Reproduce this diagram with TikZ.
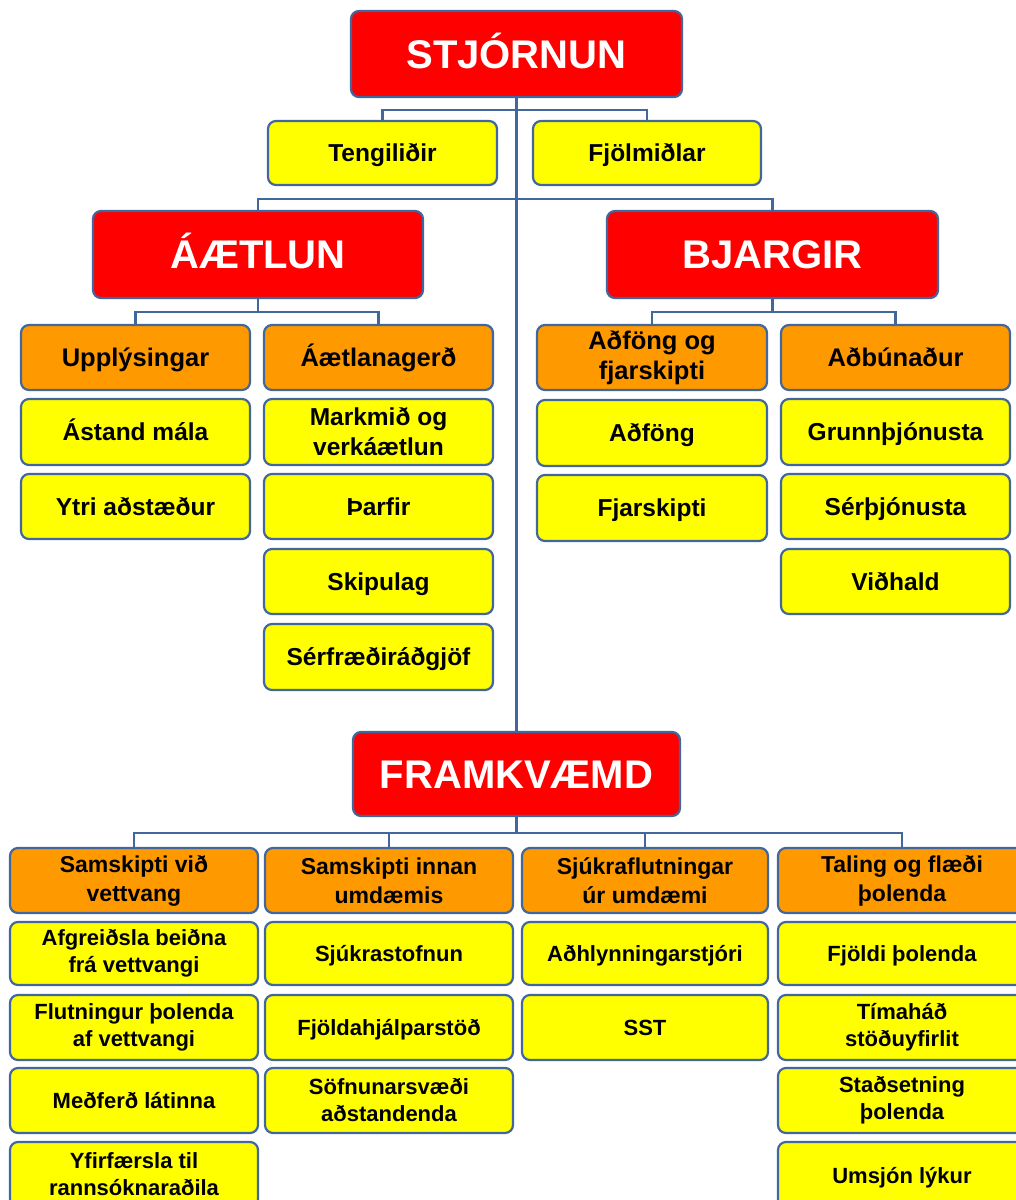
\documentclass[tikz,border=0pt]{standalone}
\usepackage{fontspec}
\setmainfont{Liberation Sans}
\definecolor{bordc}{HTML}{41679C}
\definecolor{redf}{HTML}{FF0000}
\definecolor{orf}{HTML}{FF9900}
\definecolor{yelf}{HTML}{FFFF00}
\newcommand\capbx[1]{\raisebox{0pt}[0.716em][0pt]{#1}}
\newcommand\bx[7]{\node[#6, minimum width={(#4-#2)*1pt}, minimum height={(#5-#3)*1pt}] (#1) at ({(#2+#4)/2},{(#3+#5)/2}) {#7};}
\newcommand\bxo[7]{\bx{#1}{#2}{#3}{#4}{#5}{#6}{\capbx{#7}}}
\begin{document}
\begin{tikzpicture}[x=1pt,y=-1pt,
  box/.style={draw=bordc, line width=2.2pt, rounded corners=8pt, align=center, inner sep=0pt, outer sep=0pt},
  title/.style={box, fill=redf, text=white, font=\fontsize{40}{44}\selectfont\bfseries},
  obig/.style={box, fill=orf, font=\fontsize{25.5}{30}\selectfont\bfseries},
  ybig/.style={box, fill=yelf, font=\fontsize{24.5}{30}\selectfont\bfseries},
  osm/.style={box, fill=orf, font=\fontsize{23}{29}\selectfont\bfseries},
  ysm/.style={box, fill=yelf, font=\fontsize{22}{27}\selectfont\bfseries},
  conn/.style={draw=bordc, line width=2.4pt}]
\useasboundingbox (0,0) rectangle (1016,1200);
\clip (0,0) rectangle (1016,1200);
% titles
\bxo{stj}{351}{11}{682}{97}{title}{STJÓRNUN}
\bxo{aet}{93}{211}{423}{298}{title}{ÁÆTLUN}
\bxo{bja}{607}{211}{938}{298}{title}{BJARGIR}
\bxo{fra}{353}{732}{680}{816}{title}{FRAMKVÆMD}
% stjornun children
\bxo{ten}{268}{121}{497}{185}{ybig}{Tengiliðir}
\bxo{fjm}{533}{121}{761}{185}{ybig}{Fjölmiðlar}
% aetlun
\bxo{upp}{21}{325}{250}{390}{obig}{Upplýsingar}
\bxo{aeg}{264}{325}{493}{390}{obig}{Áætlanagerð}
\bxo{ast}{21}{399}{250}{465}{ybig}{Ástand mála}
\bxo{ytr}{21}{474}{250}{539}{ybig}{Ytri aðstæður}
\bx{mar}{264}{399}{493}{465}{ybig}{Markmið og\\verkáætlun}
\bxo{thf}{264}{474}{493}{539}{ybig}{Þarfir}
\bxo{skp}{264}{549}{493}{614}{ybig}{Skipulag}
\bxo{srf}{264}{624}{493}{690}{ybig}{Sérfræðiráðgjöf}
% bjargir
\bx{adf}{537}{325}{767}{390}{obig}{Aðföng og\\fjarskipti}
\bxo{adb}{781}{325}{1010}{390}{obig}{Aðbúnaður}
\bxo{adg}{537}{400}{767}{466}{ybig}{Aðföng}
\bxo{fjs}{537}{475}{767}{541}{ybig}{Fjarskipti}
\bxo{gru}{781}{399}{1010}{465}{ybig}{Grunnþjónusta}
\bxo{ser}{781}{474}{1010}{539}{ybig}{Sérþjónusta}
\bxo{vid}{781}{549}{1010}{614}{ybig}{Viðhald}
% framkvaemd
\bx{sv}{10}{848}{258}{913}{osm}{Samskipti við\\vettvang}
\bx{si}{265}{848}{513}{913}{osm}{Samskipti innan\\umdæmis}
\bx{sj}{522}{848}{768}{913}{osm}{Sjúkraflutningar\\úr umdæmi}
\bx{tf}{778}{848}{1026}{913}{osm}{Taling og flæði\\þolenda}
\bx{a1}{10}{922}{258}{985}{ysm}{Afgreiðsla beiðna\\frá vettvangi}
\bx{a2}{10}{995}{258}{1060}{ysm}{Flutningur þolenda\\af vettvangi}
\bxo{a3}{10}{1068}{258}{1133}{ysm}{Meðferð látinna}
\bx{a4}{10}{1142}{258}{1207}{ysm}{Yfirfærsla til\\rannsóknaraðila}
\bxo{b1}{265}{922}{513}{985}{ysm}{Sjúkrastofnun}
\bxo{b2}{265}{995}{513}{1060}{ysm}{Fjöldahjálparstöð}
\bx{b3}{265}{1068}{513}{1133}{ysm}{Söfnunarsvæði\\aðstandenda}
\bxo{c1}{522}{922}{768}{985}{ysm}{Aðhlynningarstjóri}
\bxo{c2}{522}{995}{768}{1060}{ysm}{SST}
\bxo{d1}{778}{922}{1026}{985}{ysm}{Fjöldi þolenda}
\bx{d2}{778}{995}{1026}{1060}{ysm}{Tímaháð\\stöðuyfirlit}
\bx{d3}{778}{1068}{1026}{1133}{ysm}{Staðsetning\\þolenda}
\bxo{d4}{778}{1142}{1026}{1210}{ysm}{Umsjón lýkur}
% connectors
\draw[conn] (stj.south) -- (fra.north);
\draw[conn] (ten.north) -- ++(0,-11) -| (fjm.north);
\draw[conn] (aet.north) -- ++(0,-12) -| (bja.north);
\draw[conn] (aet.south) -- ++(0,14);
\draw[conn] (upp.north) -- ++(0,-13) -| (aeg.north);
\draw[conn] (bja.south) -- ++(0,14);
\draw[conn] (adf.north) -- ++(0,-13) -| (adb.north);
\draw[conn] (fra.south) -- ++(0,17);
\draw[conn] (sv.north) -- ++(0,-15) -| (tf.north);
\draw[conn] (si.north) -- ++(0,-15);
\draw[conn] (sj.north) -- ++(0,-15);
\end{tikzpicture}
\end{document}
